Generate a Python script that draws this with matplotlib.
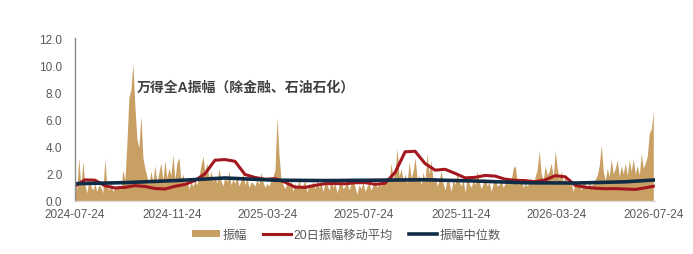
import matplotlib
matplotlib.use("Agg")
import matplotlib.pyplot as plt
import matplotlib.dates as mdates
from matplotlib.ticker import FormatStrFormatter
import pandas as pd

plt.rcParams['font.family'] = ['Liberation Sans', 'Noto Sans CJK SC', 'DejaVu Sans']

START = "2024-07-24"
END = "2026-07-24"

# 振幅（每隔约2.5天读一次）
amplitude = [
    1.4, 0.9, 3.2, 1.0, 2.9, 1.2, 0.6, 1.5, 1.1, 0.8,
    1.3, 0.7, 1.2, 1.0, 0.6, 3.1, 1.1, 0.8, 1.3, 0.7,
    1.0, 0.9, 1.2, 0.8, 2.3, 1.5, 4.2, 7.6, 8.2, 10.1,
    7.0, 4.6, 3.9, 6.3, 3.2, 2.4, 1.8, 1.2, 2.2, 1.4,
    2.6, 1.3, 2.1, 2.8, 1.5, 3.0, 1.7, 2.4, 1.9, 3.4,
    1.6, 2.8, 3.2, 1.5, 2.0, 1.2, 1.6, 0.9, 1.4, 1.1,
    1.5, 1.2, 1.8, 2.6, 3.3, 2.1, 2.8, 1.6, 2.2, 1.4,
    1.8, 1.3, 2.4, 1.5, 1.1, 1.9, 1.4, 2.2, 1.2, 1.6,
    1.3, 1.8, 1.1, 1.5, 2.0, 1.2, 1.7, 1.0, 1.4, 1.3,
    1.1, 1.6, 1.2, 2.1, 1.4, 1.0, 1.3, 1.1, 1.5, 1.8,
    2.3, 6.2, 3.4, 1.6, 1.2, 0.9, 1.4, 1.1, 1.5, 0.7,
    1.3, 1.0, 1.6, 0.9, 1.2, 1.5, 0.6, 1.3, 1.1, 1.4,
    0.9, 1.5, 1.0, 1.3, 0.7, 1.4, 1.2, 0.8, 1.6, 1.0,
    1.3, 0.6, 1.2, 1.5, 0.9, 1.1, 1.4, 0.8, 1.3, 1.6,
    1.0, 0.5, 1.2, 0.9, 1.4, 0.7, 1.1, 1.3, 0.8, 1.2,
    1.5, 1.0, 1.3, 1.1, 1.6, 1.2, 1.8, 1.4, 2.8, 1.6,
    2.2, 3.9, 1.8, 2.4, 1.5, 2.0, 1.3, 2.9, 1.7, 2.2,
    3.2, 1.6, 1.9, 1.2, 2.1, 1.5, 3.5, 2.0, 3.0, 1.4,
    1.8, 1.1, 1.5, 2.2, 1.3, 0.8, 1.7, 1.4, 0.7, 1.6,
    1.2, 2.0, 1.4, 1.1, 1.6, 0.6, 1.9, 1.3, 1.0, 1.5,
    1.2, 2.2, 1.4, 0.9, 1.3, 1.7, 1.1, 1.4, 0.7, 1.3,
    1.6, 1.1, 1.2, 1.5, 1.0, 1.3, 1.8, 1.2, 1.5, 2.4,
    2.6, 1.4, 1.2, 1.6, 1.0, 1.3, 1.1, 1.4, 1.6, 1.2,
    1.8, 2.3, 3.7, 2.0, 1.5, 2.6, 1.9, 2.2, 2.8, 1.7,
    3.7, 2.4, 1.6, 2.2, 1.4, 1.8, 1.2, 1.5, 1.3, 0.7,
    1.4, 1.1, 1.3, 0.8, 1.5, 1.2, 0.9, 1.4, 1.1, 1.3,
    1.6, 1.9, 2.6, 4.1, 2.2, 1.5, 2.4, 1.8, 3.1, 2.0,
    2.4, 3.0, 1.8, 2.6, 2.0, 2.8, 1.9, 3.0, 2.2, 3.1,
    2.0, 2.6, 1.9, 3.5, 2.4, 2.8, 3.3, 5.0, 5.3, 6.6,
]

# 20日振幅移动平均（每5个点读一次，最后一个点为末值）
ma20 = [
    1.10, 1.55, 1.53, 1.12, 0.96, 1.00, 1.13, 1.07, 0.92, 0.88,
    1.08, 1.22, 1.50, 2.00, 3.00, 3.05, 2.92, 1.95, 1.73, 1.60,
    1.64, 1.38, 1.02, 1.00, 1.15, 1.27, 1.28, 1.26, 1.34, 1.35,
    1.23, 1.30, 2.10, 3.62, 3.66, 2.75, 2.27, 2.33, 2.03, 1.70,
    1.74, 1.88, 1.83, 1.60, 1.52, 1.50, 1.42, 1.55, 1.86, 1.78,
    1.15, 1.01, 0.94, 0.90, 0.91, 0.88, 0.85, 0.97, 1.08,
]

# 振幅中位数（每25个点读一次，最后一个点为末值）
median_amp = [1.27, 1.35, 1.50, 1.69, 1.53, 1.50, 1.53, 1.56, 1.47, 1.34, 1.32, 1.41, 1.54]

dates = pd.date_range(START, END, periods=len(amplitude))
ma_idx = list(range(0, len(amplitude), 5)) + [len(amplitude) - 1]
med_idx = list(range(0, len(amplitude), 25)) + [len(amplitude) - 1]

C_AREA = '#C9A064'
C_RED = '#A3171E'
C_NAVY = '#102B45'
C_TEXT = '#595959'

fig = plt.figure(figsize=(6.93, 2.55), dpi=100)
ax = fig.add_axes([0.108, 0.208, 0.837, 0.639])

ax.fill_between(dates, 0, amplitude, color=C_AREA, linewidth=0, label='振幅')
ax.plot(dates[ma_idx], ma20, color=C_RED, linewidth=2.2, label='20日振幅移动平均')
ax.plot(dates[med_idx], median_amp, color=C_NAVY, linewidth=2.6, label='振幅中位数')

ax.set_ylim(0, 12)
ax.set_yticks(range(0, 13, 2))
ax.yaxis.set_major_formatter(FormatStrFormatter('%.1f'))
ax.set_xlim(pd.Timestamp(START), pd.Timestamp("2026-07-26"))
ticks = pd.to_datetime(["2024-07-24", "2024-11-24", "2025-03-24", "2025-07-24",
                        "2025-11-24", "2026-03-24", "2026-07-24"])
ax.set_xticks(ticks)
ax.xaxis.set_major_formatter(mdates.DateFormatter('%Y-%m-%d'))

ax.tick_params(axis='both', length=0, labelsize=8.5, colors=C_TEXT)
ax.tick_params(axis='y', pad=9)
ax.tick_params(axis='x', pad=5)
for side in ['top', 'right']:
    ax.spines[side].set_visible(False)
ax.spines['left'].set_color('#8C8C8C')
ax.spines['left'].set_linewidth(1.0)
ax.spines['bottom'].set_color('#D9D9D9')
ax.spines['bottom'].set_linewidth(1.0)

ax.text(0.107, 0.70, '万得全A振幅（除金融、石油石化）', transform=ax.transAxes,
        fontsize=10, fontweight='bold', color='#404040', va='center', ha='left')

handles, labels = ax.get_legend_handles_labels()
leg = fig.legend(handles, labels, loc='center', bbox_to_anchor=(0.5, 0.075), ncol=3,
                 frameon=False, fontsize=8.8, handlelength=2.3, handleheight=0.5,
                 columnspacing=1.3, handletextpad=0.2)
for t in leg.get_texts():
    t.set_color(C_TEXT)

fig.savefig('out.png', dpi=100)
